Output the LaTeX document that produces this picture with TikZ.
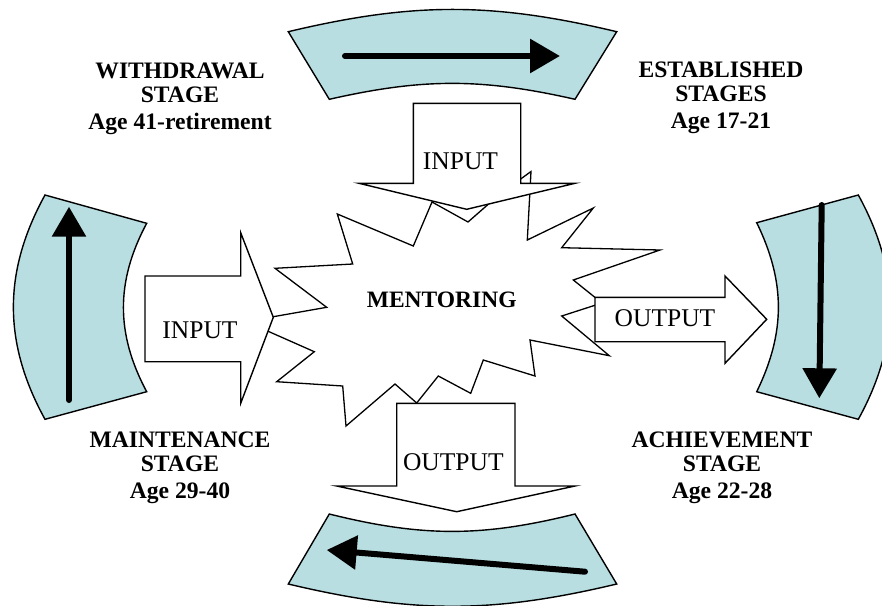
\documentclass[tikz,border=0pt]{standalone}
\usepackage{fontspec}
\setmainfont{Liberation Serif}
\usetikzlibrary{arrows.meta}
\definecolor{bandfill}{RGB}{184,222,226}
\definecolor{ink}{RGB}{0,0,0}
\tikzset{
  band/.style={draw=ink, line width=1.4pt, fill=bandfill, line join=miter},
  blockarr/.style={draw=ink, line width=1.4pt, fill=white, line join=miter},
  burst/.style={draw=ink, line width=1.3pt, fill=white, line join=miter},
  flow/.style={draw=ink, line width=6pt, line cap=round,
               -{Triangle[length=30pt,width=33pt]}},
  stagelbl/.style={font=\fontsize{23.6}{24}\selectfont\bfseries, align=center,
               inner sep=0pt, anchor=north, text=ink},
  io/.style={font=\fontsize{25.5}{26}\selectfont, inner sep=0pt, text=ink},
}

\begin{document}
\begin{tikzpicture}[x=1pt, y=-1pt]
  \useasboundingbox (0,0) rectangle (882,605);
  \clip (0,0) rectangle (882,605);
  \fill[white] (0,0) rectangle (882,605);

  % ---- the four curved stage bands ---------------------------------
  \draw[band] (288.3,31.7) to[bend left=13.4] (616.7,31.7)
     -- (575,99.3) to[bend right=12.8] (329.3,99.3) -- cycle;          % top
  \draw[band] (858.3,195) to[bend left=28.8] (858.3,419.3)
     -- (756.7,391.7) to[bend right=26] (756.7,222.7) -- cycle;        % right
  \draw[band] (329.3,514) to[bend right=14] (575,514)
     -- (616.7,584) to[bend left=13.4] (288.3,584) -- cycle;           % bottom
  \draw[band] (45,195) to[bend right=28.8] (45,419.3)
     -- (146.7,391.7) to[bend left=28.2] (146.7,223.3) -- cycle;       % left

  % direction of travel round the cycle
  \coordinate (estA) at (345,56);    \coordinate (estB) at (560,56);
  \coordinate (achA) at (821.7,205); \coordinate (achB) at (819.3,398.3);
  \coordinate (mntA) at (585,571.7); \coordinate (mntB) at (326.7,550);
  \coordinate (wdrA) at (69,400);    \coordinate (wdrB) at (69,206.7);
  \draw[flow] (estA) -- (estB);
  \draw[flow] (achA) -- (achB);
  \draw[flow] (mntA) -- (mntB);
  \draw[flow] (wdrA) -- (wdrB);

  % ---- mentoring burst (drawn first, block arrows lie on top) -------
  \draw[burst] (337.3,214) -- (413.3,246) -- (432,202) -- (468,222)
    -- (500,194) -- (531,171.5) -- (527.3,240) -- (593.3,208)
    -- (561.7,247.7) -- (660,250) -- (573.3,280) -- (602,303)
    -- (561.7,316) -- (609.3,355.7) -- (530,340) -- (535,376)
    -- (483.3,360) -- (470.7,393.3) -- (438.3,376) -- (416.7,403)
    -- (395,384) -- (346,426) -- (342.7,386) -- (276.7,381.7)
    -- (314.3,351.7) -- (246,321.5) -- (326.7,307.3) -- (275,268.3)
    -- (352.7,264) -- cycle;
  \node[font=\fontsize{23.5}{24}\selectfont\bfseries, inner sep=0pt] (mentoring)
    at (441.7,300) {MENTORING};

  % ---- input / output block arrows ----------------------------------
  \draw[blockarr] (413.3,103.3) -- (520.7,103.3) -- (520.7,183.3) -- (575,183.3)
    -- (466.7,209.3) -- (359,183.3) -- (413.3,183.3) -- cycle;
  \draw[blockarr] (145,276) -- (240.7,276) -- (240.7,232.7) -- (273.3,317.3)
    -- (240.7,403.3) -- (240.7,361.7) -- (145,361.7) -- cycle;
  \draw[blockarr] (595,297.3) -- (725,297.3) -- (725,276) -- (766.7,319.3)
    -- (725,363.3) -- (725,341.7) -- (595,341.7) -- cycle;
  \draw[blockarr] (396.7,403.3) -- (515,403.3) -- (515,486) -- (575,486)
    -- (456.7,511.7) -- (336.7,486) -- (396.7,486) -- cycle;
  \node[io] (inTop)     at (460.5,161)   {INPUT};
  \node[io] (inLeft)    at (200,330)     {INPUT};
  \node[io] (outRight)  at (665,318)     {OUTPUT};
  \node[io] (outBottom) at (453.3,461.7) {OUTPUT};

  % ---- stage labels --------------------------------------------------
  \node[stagelbl] (withdrawal)  at (180,63)  {WITHDRAWAL\\ STAGE\\[3pt] Age 41-retirement};
  \node[stagelbl] (established) at (721,62)  {ESTABLISHED\\ STAGES\\[3pt] Age 17-21};
  \node[stagelbl] (maintenance) at (180,431.5) {MAINTENANCE\\ STAGE\\[3pt] Age 29-40};
  \node[stagelbl] (achievement) at (722,431.5) {ACHIEVEMENT\\ STAGE\\[3pt] Age 22-28};
\end{tikzpicture}
\end{document}
